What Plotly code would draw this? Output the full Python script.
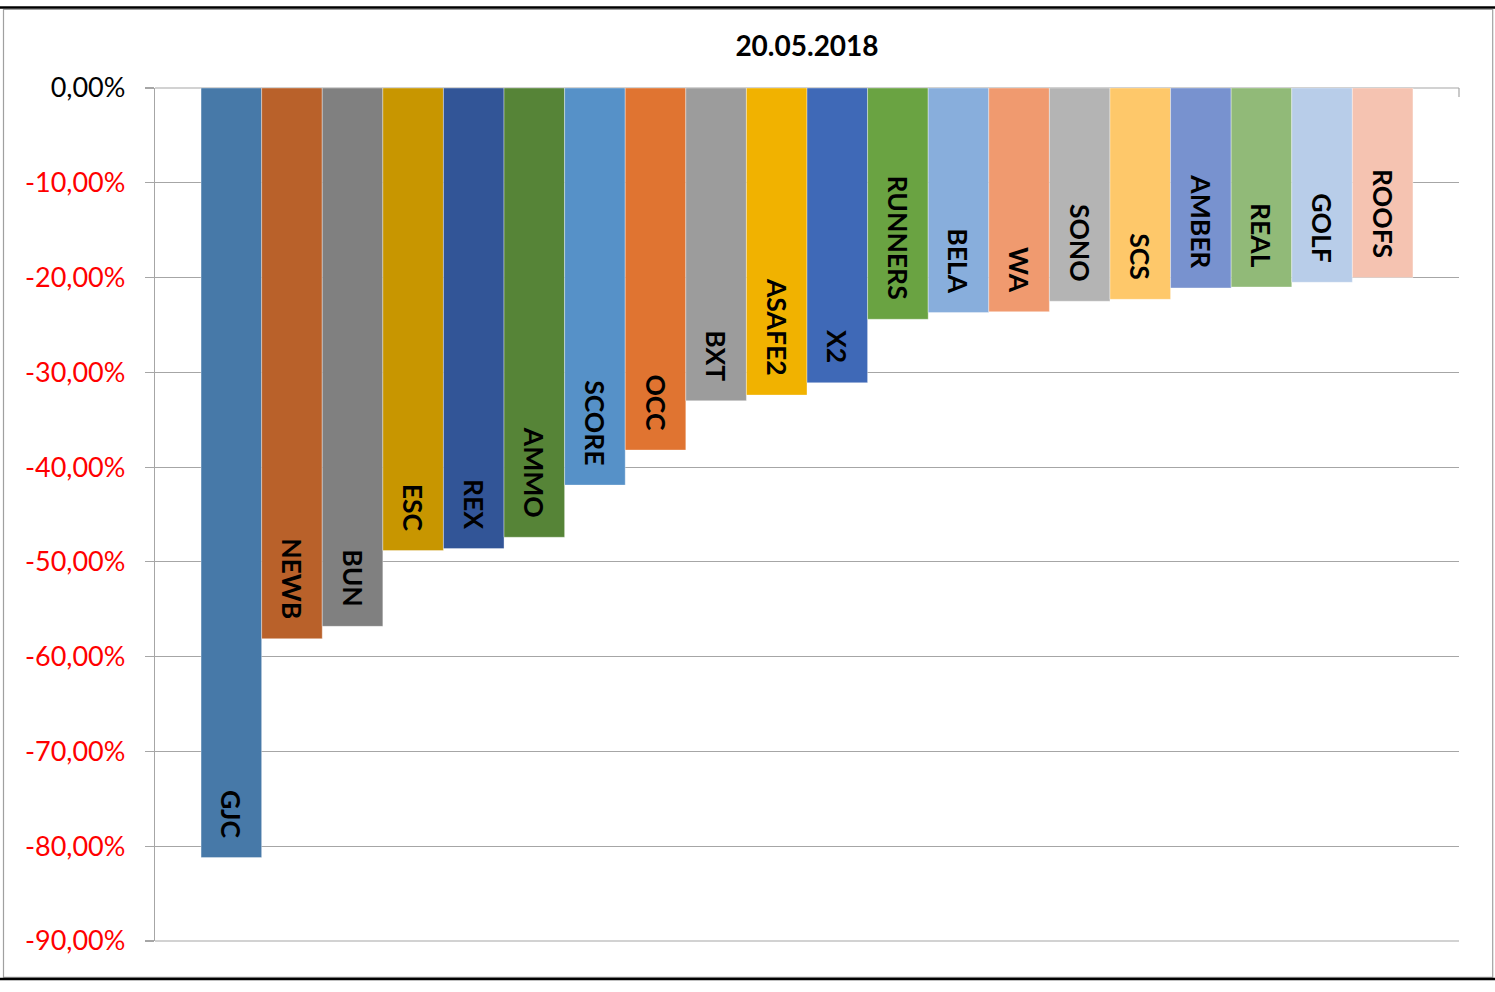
import plotly.graph_objects as go

# ---- data ----
tickers = ["GJC", "NEWB", "BUN", "ESC", "REX", "AMMO", "SCORE", "OCC", "BXT", "ASAFE2",
           "X2", "RUNNERS", "BELA", "WA", "SONO", "SCS", "AMBER", "REAL", "GOLF", "ROOFS"]
changes = [-81.2, -58.1, -56.8, -48.8, -48.6, -47.4, -41.9, -38.2, -33.0, -32.4,
           -31.1, -24.4, -23.7, -23.6, -22.5, -22.3, -21.1, -21.0, -20.5, -20.0]
colors = ["#4779A8", "#B9612A", "#808080", "#C89600", "#325597", "#568437", "#5691C8",
          "#E07431", "#9C9C9C", "#F1B200", "#3F69B7", "#6AA342", "#88AEDC", "#F09A6F",
          "#B4B4B4", "#FEC86A", "#7892CF", "#91BA78", "#B8CDE9", "#F5C3B1"]
tick_vals = [0, -10, -20, -30, -40, -50, -60, -70, -80, -90]
tick_text = ["0,00%", "-10,00%", "-20,00%", "-30,00%", "-40,00%", "-50,00%",
             "-60,00%", "-70,00%", "-80,00%", "-90,00%"]
title = "20.05.2018"

W, H = 1495, 992
L, R, T, B = 155, 1459, 88, 941
FONT = "Lato, Carlito, Calibri, sans-serif"

def px_x(px):
    return (px - L) / (R - L)

def px_y(py):
    return (B - py) / (B - T)

pad = 0.76
xs = list(range(len(tickers)))
labels = [t + "\u2002\u2009" for t in tickers]

fig = go.Figure()
fig.add_trace(go.Bar(
    x=xs, y=changes, width=1.0,
    marker=dict(color=colors, line=dict(width=0.6, color="rgba(255,255,255,0.6)")),
    text=labels, textposition="inside", insidetextanchor="end", textangle=90,
    textfont=dict(family=FONT, size=26.5, color="black", weight="bold"),
    constraintext="none",
    hoverinfo="skip",
))

tt = ['<span style="color:black">%s</span>' % t if v == 0 else t for v, t in zip(tick_vals, tick_text)]

fig.update_layout(
    width=W, height=H,
    margin=dict(l=L, r=W - R, t=T, b=H - B, pad=0),
    paper_bgcolor="white", plot_bgcolor="white",
    showlegend=False,
    title=dict(text="<b>" + title + "</b>", x=px_x(807), xref="paper", xanchor="center",
               y=1 - 46 / H, yanchor="middle", font=dict(family=FONT, size=28, color="black")),
    xaxis=dict(range=[-0.5 - pad, len(tickers) - 0.5 + pad], showticklabels=False,
               showgrid=False, zeroline=False, showline=False, ticks=""),
    yaxis=dict(range=[-90, 0], tickvals=tick_vals, ticktext=tt,
               tickfont=dict(family=FONT, size=27, color="#FF0000"),
               showgrid=True, gridcolor="#A6A6A6", gridwidth=1.2,
               zeroline=False, showline=True, linecolor="#A6A6A6", linewidth=1.2,
               ticks="outside", ticklen=9, tickcolor="#A6A6A6", tickwidth=1.2,
               ticklabelstandoff=14),
)

# category axis line at 0, bottom gridline, and end tick at the top right
fig.add_shape(type="line", xref="paper", yref="paper", x0=0, x1=1, y0=1, y1=1,
              line=dict(color="#A6A6A6", width=1.2), layer="below")
fig.add_shape(type="line", xref="paper", yref="paper", x0=0, x1=1, y0=0, y1=0,
              line=dict(color="#A6A6A6", width=1.2), layer="below")
fig.add_shape(type="line", xref="paper", yref="paper", x0=1, x1=1, y0=1, y1=px_y(97),
              line=dict(color="#A6A6A6", width=1.2))
# outer frame
fig.add_shape(type="rect", xref="paper", yref="paper", x0=px_x(3.5), x1=px_x(1492.7),
              y0=px_y(977.3), y1=px_y(9.5), line=dict(color="#A0A0A0", width=1.2), layer="below")
fig.add_shape(type="line", xref="paper", yref="paper", x0=px_x(0), x1=px_x(1495),
              y0=px_y(7.5), y1=px_y(7.5), line=dict(color="black", width=2.5))
fig.add_shape(type="line", xref="paper", yref="paper", x0=px_x(0), x1=px_x(1495),
              y0=px_y(979), y1=px_y(979), line=dict(color="black", width=2.5))

fig.write_html("out.html", config={"displayModeBar": False, "staticPlot": True},
               post_script="document.body.style.margin='0';document.body.style.overflow='hidden';")
